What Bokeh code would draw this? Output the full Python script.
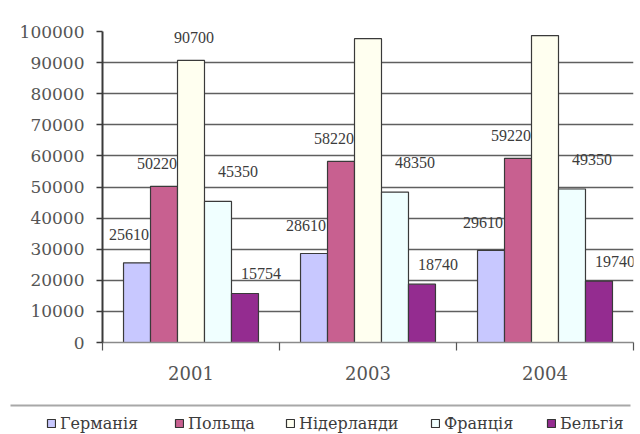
from bokeh.plotting import figure
from bokeh.models import (ColumnDataSource, Range1d, LinearAxis,
                          FixedTicker, BasicTickFormatter, Grid, LabelSet, Legend, LegendItem)
from bokeh.transform import dodge
from bokeh.layouts import column
from bokeh.embed import file_html
from bokeh.resources import INLINE

years = ["2001", "2003", "2004"]
series_names = ["Германія", "Польща", "Нідерланди", "Франція", "Бельгія"]
germany = [25610, 28610, 29610]
poland = [50220, 58220, 59220]
netherlands = [90700, 97700, 98700]
france = [45350, 48350, 49350]
belgium = [15754, 18740, 19740]
y_ticks = [0, 10000, 20000, 30000, 40000, 50000, 60000, 70000, 80000, 90000, 100000]

series = [germany, poland, netherlands, france, belgium]
keys = ["de", "pl", "nl", "fr", "be"]
colors = ["#C8C8FF", "#C86090", "#FFFFF0", "#F0FFFF", "#942C90"]
offsets = [-0.305, -0.1525, 0.0, 0.1525, 0.305]
lab_dx = [-8, -7, 3, 20, 16]
lab_dy = [28, 23, 23, 30, 20]

centers = [i + 0.5 for i in range(len(years))]
edges = list(range(len(years) + 1))
data = {"pos": centers}
for k, s in zip(keys, series):
    data[k] = s
    data[k + "_t"] = [str(v) for v in s]
source = ColumnDataSource(data)

LABEL_FONT = "Liberation Serif"
AXIS_FONT = "DejaVu Serif"

p = figure(width=636, height=400, x_range=Range1d(0, len(years)),
           y_range=Range1d(0, 100000), output_backend="svg", toolbar_location=None,
           x_axis_location=None, y_axis_location="left",
           min_border_left=102, min_border_right=3, min_border_top=31, min_border_bottom=58)
p.outline_line_color = None
p.background_fill_color = "white"
p.xgrid.grid_line_color = None
if "frame_align" in p.properties():
    p.frame_align = False

# y axis
ya = p.yaxis[0]
ya.ticker = FixedTicker(ticks=y_ticks)
ya.formatter = BasicTickFormatter(use_scientific=False)
ya.axis_line_color = "#3a3a3a"
ya.axis_line_width = 2
ya.major_tick_line_color = "#3a3a3a"
ya.major_tick_line_width = 1.5
ya.major_tick_out = 6
ya.major_tick_in = 0
ya.minor_tick_line_color = None
ya.major_label_text_font = AXIS_FONT
ya.major_label_text_font_size = "17px"
ya.major_label_text_font_style = "normal"
ya.major_label_text_color = "#555555"
ya.major_label_standoff = 12

p.ygrid.ticker = FixedTicker(ticks=y_ticks[1:-1])
p.ygrid.grid_line_color = "#5f5f5f"
p.ygrid.grid_line_width = 1.6
top_grid = Grid(dimension=1, ticker=FixedTicker(ticks=y_ticks[-1:]),
                grid_line_color="#b4b4b4", grid_line_width=2)
p.add_layout(top_grid)

# x axis: labels at group centers, small ticks at group boundaries
cat_axis = LinearAxis(ticker=FixedTicker(ticks=centers, minor_ticks=edges),
                      major_label_overrides={c: y for c, y in zip(centers, years)},
                      major_tick_line_color=None, major_tick_out=8, major_tick_in=0,
                      minor_tick_line_color="#555555", minor_tick_line_width=1.2,
                      minor_tick_out=8, minor_tick_in=0,
                      axis_line_color="#8a8a8a", axis_line_width=1.5,
                      major_label_text_font=AXIS_FONT, major_label_text_font_size="18px",
                      major_label_text_font_style="normal",
                      major_label_text_color="#555555", major_label_standoff=15)
p.add_layout(cat_axis, "below")

for k, c, off, dx, dy in zip(keys, colors, offsets, lab_dx, lab_dy):
    p.vbar(x=dodge("pos", off), top=k, width=0.1525, source=source,
           fill_color=c, line_color="#3a3a3a", line_width=1.2)
    lbl = LabelSet(x=dodge("pos", off), y=k, text=k + "_t", source=source,
                   x_offset=dx, y_offset=dy, text_align="center", text_baseline="middle",
                   text_font=LABEL_FONT, text_font_size="16px", text_color="#3c3c3c")
    p.add_layout(lbl)

# legend panel (bars here lie outside the visible y-range; only used as legend swatches)
p2 = figure(width=636, height=33, x_range=Range1d(0, len(years)), y_range=Range1d(-2, -1),
            output_backend="svg", toolbar_location=None, x_axis_location=None, y_axis_location=None,
            min_border_left=10, min_border_right=6, min_border_top=5, min_border_bottom=0)
p2.outline_line_color = None
p2.xgrid.grid_line_color = None
p2.ygrid.grid_line_color = None
if "frame_align" in p2.properties():
    p2.frame_align = False
sep = LinearAxis(ticker=FixedTicker(ticks=[]), major_label_standoff=0,
                 major_tick_line_color=None, minor_tick_line_color=None,
                 major_tick_out=0, minor_tick_out=0,
                 axis_line_color="#a8a8a8", axis_line_width=2)
p2.add_layout(sep, "above")

legend_x = [36, 164, 275, 420, 536]
for name, k, c, off, lx in zip(series_names, keys, colors, offsets, legend_x):
    dr = p2.vbar(x=dodge("pos", off), top=k, width=0.1525, source=source, fill_color=c,
                 line_color="#333333", line_width=1.2)
    lg = Legend(items=[LegendItem(label=name, renderers=[dr])], location=(lx, 0),
                orientation="horizontal", padding=0, margin=0, border_line_color=None,
                background_fill_alpha=0, glyph_width=10, glyph_height=10, label_standoff=4,
                label_text_font=AXIS_FONT, label_text_font_size="16px",
                label_text_font_style="normal", label_text_color="#3c3c3c",
                label_height=20)
    p2.add_layout(lg)

layout = column(p, p2, spacing=0)
open("out.html", "w").write(file_html(layout, INLINE))
